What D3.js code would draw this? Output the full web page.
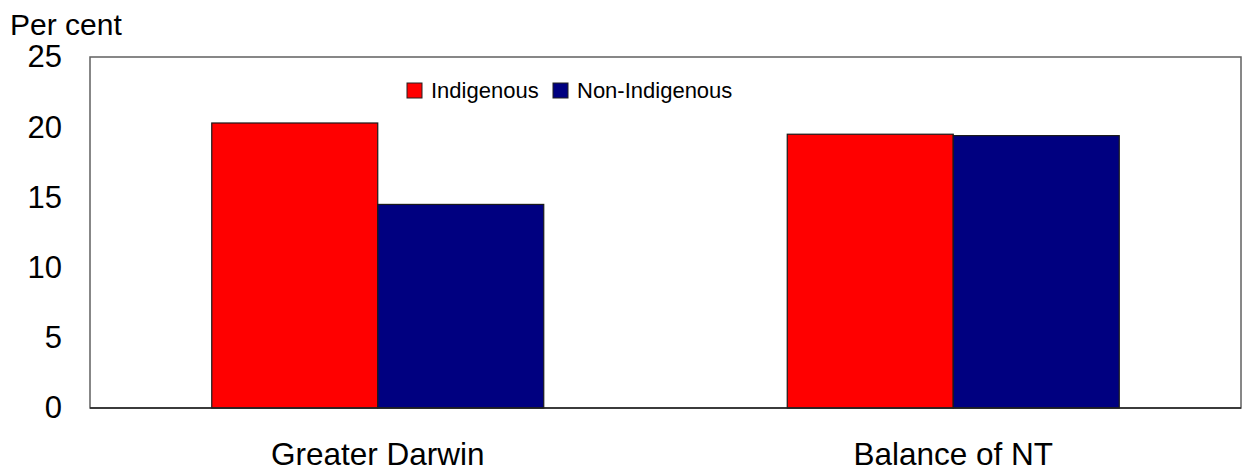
<!DOCTYPE html>
<html>
<head>
<meta charset="utf-8">
<script src="https://cdn.jsdelivr.net/npm/d3@7"></script>
<style>
  html, body { margin: 0; padding: 0; background: #fff; }
  svg { display: block; font-family: "Liberation Sans", Arial, sans-serif; }
</style>
</head>
<body>
<svg id="chart" width="1243" height="473"></svg>
<script>
// Regions and series
const categories = ["Greater Darwin", "Balance of NT"];
const seriesNames = ["Indigenous", "Non-Indigenous"];
const indigenous = [20.3, 19.5];
const nonIndigenous = [14.5, 19.4];
const yTicks = [0, 5, 10, 15, 20, 25];
const colors = ["#ff0000", "#000080"];

const svg = d3.select("#chart");
const margin = { left: 90, top: 57, right: 2, bottom: 65 };
const W = 1243, H = 473;
const plotW = W - margin.left - margin.right;
const plotH = H - margin.top - margin.bottom;
const FONT = "'Liberation Sans', Arial, sans-serif";

const x0 = d3.scaleBand().domain(categories).range([0, plotW]).paddingInner(0).paddingOuter(0);
const groupWidth = 332;
const x1 = d3.scaleBand().domain(seriesNames).range([0, groupWidth]).padding(0);
const y = d3.scaleLinear().domain([0, 25]).range([plotH, 0]);

const g = svg.append("g").attr("transform", `translate(${margin.left},${margin.top})`);

// Plot frame
g.append("rect")
  .attr("x", 0).attr("y", 0).attr("width", plotW).attr("height", plotH)
  .attr("fill", "#fff").attr("stroke", "#606060").attr("stroke-width", 1.5);

// Bars
const data = categories.map((c, i) => ({ cat: c, vals: [indigenous[i], nonIndigenous[i]] }));
const groups = g.selectAll(".grp").data(data).enter().append("g")
  .attr("transform", d => `translate(${x0(d.cat) + (x0.bandwidth() - groupWidth) / 2},0)`);
groups.selectAll("rect").data(d => d.vals.map((v, j) => ({ name: seriesNames[j], v, j })))
  .enter().append("rect")
  .attr("x", d => x1(d.name))
  .attr("y", d => y(d.v))
  .attr("width", x1.bandwidth())
  .attr("height", d => y(0) - y(d.v))
  .attr("fill", d => colors[d.j])
  .attr("stroke", "#1a1a1a").attr("stroke-width", 1.2);

// Baseline
g.append("line").attr("x1", 0).attr("x2", plotW).attr("y1", y(0)).attr("y2", y(0))
  .attr("stroke", "#222").attr("stroke-width", 1.5);

// Y axis labels
const yAxis = d3.axisLeft(y).tickValues(yTicks).tickSize(0).tickPadding(28);
const ya = g.append("g").call(yAxis);
ya.select(".domain").remove();
ya.selectAll("text").attr("font-size", 31).attr("fill", "#000").attr("font-family", FONT);

// Category labels
const xAxis = d3.axisBottom(x0).tickSize(0).tickPadding(0);
const xa = g.append("g").attr("transform", `translate(0,${plotH})`).call(xAxis);
xa.select(".domain").remove();
xa.selectAll("text").attr("font-size", 31.5).attr("fill", "#000").attr("font-family", FONT)
  .attr("dy", null).attr("y", 57);

// Axis title
svg.append("text").attr("x", 10).attr("y", 35).attr("font-size", 30).attr("fill", "#000")
  .attr("font-family", FONT).text("Per cent");

// Legend
const legendX = [407, 553];
const lg = svg.append("g");
seriesNames.forEach((name, i) => {
  lg.append("rect").attr("x", legendX[i]).attr("y", 83).attr("width", 15).attr("height", 15)
    .attr("fill", colors[i]).attr("stroke", "#222").attr("stroke-width", 1);
  lg.append("text").attr("x", legendX[i] + 24).attr("y", 97.5).attr("font-size", 22)
    .attr("fill", "#000").attr("font-family", FONT).text(name);
});
</script>
</body>
</html>
